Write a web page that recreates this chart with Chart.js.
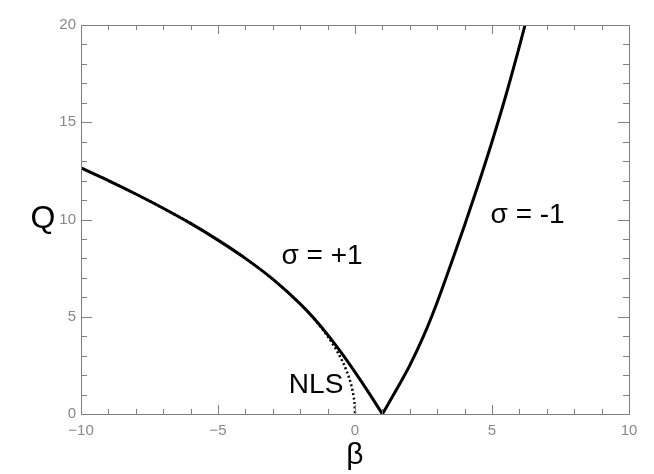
<!DOCTYPE html>
<html>
<head>
<meta charset="utf-8">
<script src="https://cdn.jsdelivr.net/npm/chart.js@4"></script>
<style>
  html, body { margin: 0; padding: 0; background: #fff; }
  #wrap { width: 654px; height: 474px; }
</style>
</head>
<body>
<div id="wrap"><canvas id="chart"></canvas></div>
<script>
// sigma = +1 branch (focusing), beta values and Q
const betaPlus  = [-10, -9, -8, -7, -6, -5, -4, -3, -2, -1.5, -1, -0.5, 0, 0.5, 1]
const qPlus     = [12.65, 12.0, 11.31, 10.58, 9.8, 8.94, 8.0, 6.93, 5.66, 4.92, 4.08, 3.15, 2.15, 1.1, 0]

// sigma = -1 branch
const betaMinus = [1, 1.5, 2, 2.5, 3, 3.5, 4, 4.5, 5, 5.5, 6, 6.3]
const qMinus    = [0, 1.22, 2.5, 4.0, 5.75, 7.7, 9.7, 11.8, 14.0, 16.35, 18.9, 20.5]

// NLS limit (dotted)
const betaNls   = [-10, -9, -8, -7, -6, -5, -4, -3, -2, -1.5, -1, -0.75, -0.5, -0.3, -0.15, -0.05, -0.01, 0]
const qNls      = [12.65, 12.0, 11.31, 10.58, 9.8, 8.94, 8.0, 6.93, 5.66, 4.9, 4.0, 3.46, 2.83, 2.19, 1.55, 0.89, 0.4, 0]

const xTicks = [-10, -5, 0, 5, 10]
const yTicks = [0, 5, 10, 15, 20]

const toXY = (xs, ys) => xs.map((x, i) => ({ x: x, y: ys[i] }))

const fontFam = '"Liberation Sans", Arial, Helvetica, sans-serif'
const axisGrey = '#808080'

// box frame + inward ticks on all four sides, like IDL plots
const frameTicks = {
  id: 'frameTicks',
  afterDraw(chart) {
    const { ctx, chartArea: a, scales } = chart
    ctx.save()
    ctx.strokeStyle = axisGrey
    ctx.lineWidth = 1
    ctx.strokeRect(a.left + 0.5, a.top + 0.5, a.right - a.left, a.bottom - a.top)
    ctx.beginPath()
    scales.x.ticks.forEach(t => {
      const px = Math.round(scales.x.getPixelForValue(t.value)) + 0.5
      const len = xTicks.includes(t.value) ? 9 : 5
      ctx.moveTo(px, a.bottom); ctx.lineTo(px, a.bottom - len)
      ctx.moveTo(px, a.top); ctx.lineTo(px, a.top + len)
    })
    scales.y.ticks.forEach(t => {
      const py = Math.round(scales.y.getPixelForValue(t.value)) + 0.5
      const len = yTicks.includes(t.value) ? 11 : 6
      ctx.moveTo(a.left, py); ctx.lineTo(a.left + len, py)
      ctx.moveTo(a.right, py); ctx.lineTo(a.right - len, py)
    })
    ctx.stroke()
    ctx.restore()
  }
}

// curve labels and axis titles
const labels = {
  id: 'labels',
  afterDraw(chart) {
    const { ctx, scales } = chart
    const x = scales.x, y = scales.y
    ctx.save()
    ctx.fillStyle = '#000'
    ctx.textAlign = 'center'
    ctx.textBaseline = 'middle'
    ctx.font = '28px ' + fontFam
    ctx.fillText('σ = +1', x.getPixelForValue(-1.2), y.getPixelForValue(8.1))
    ctx.fillText('σ = -1', x.getPixelForValue(6.3), y.getPixelForValue(10.2))
    ctx.fillText('NLS', x.getPixelForValue(-1.42), y.getPixelForValue(1.5))
    ctx.font = '32px ' + fontFam
    ctx.fillText('Q', 43, y.getPixelForValue(10))
    ctx.font = '30px ' + fontFam
    ctx.fillText('β', x.getPixelForValue(0), 456)
    ctx.restore()
  }
}

new Chart(document.getElementById('chart'), {
  type: 'scatter',
  data: {
    datasets: [
      {
        label: 'NLS',
        data: toXY(betaNls, qNls),
        showLine: true,
        borderColor: '#000',
        borderWidth: 2.5,
        borderDash: [2, 2.5],
        pointRadius: 0,
        cubicInterpolationMode: 'monotone'
      },
      {
        label: 'sigma +1',
        data: toXY(betaPlus, qPlus),
        showLine: true,
        borderColor: '#000',
        borderWidth: 3,
        pointRadius: 0,
        cubicInterpolationMode: 'monotone'
      },
      {
        label: 'sigma -1',
        data: toXY(betaMinus, qMinus),
        showLine: true,
        borderColor: '#000',
        borderWidth: 3,
        pointRadius: 0,
        cubicInterpolationMode: 'monotone'
      }
    ]
  },
  options: {
    responsive: true,
    maintainAspectRatio: false,
    animation: false,
    layout: { padding: { left: 0, right: 25, top: 25, bottom: 0 } },
    plugins: { legend: { display: false }, tooltip: { enabled: false } },
    scales: {
      x: {
        type: 'linear',
        min: -10, max: 10,
        afterFit: s => { s.height = 60 },
        grid: { display: false, drawTicks: false },
        border: { display: false },
        ticks: {
          stepSize: 1,
          autoSkip: false,
          maxRotation: 0,
          padding: 8,
          color: '#888',
          font: { family: fontFam, size: 15 },
          callback: v => xTicks.includes(v) ? String(v).replace('-', '\u2212') : ''
        }
      },
      y: {
        type: 'linear',
        min: 0, max: 20,
        afterFit: s => { s.width = 81 },
        grid: { display: false, drawTicks: false },
        border: { display: false },
        ticks: {
          stepSize: 1,
          autoSkip: false,
          padding: 5,
          color: '#888',
          font: { family: fontFam, size: 15 },
          callback: v => yTicks.includes(v) ? String(v) : ''
        }
      }
    }
  },
  plugins: [frameTicks, labels]
})
</script>
</body>
</html>
